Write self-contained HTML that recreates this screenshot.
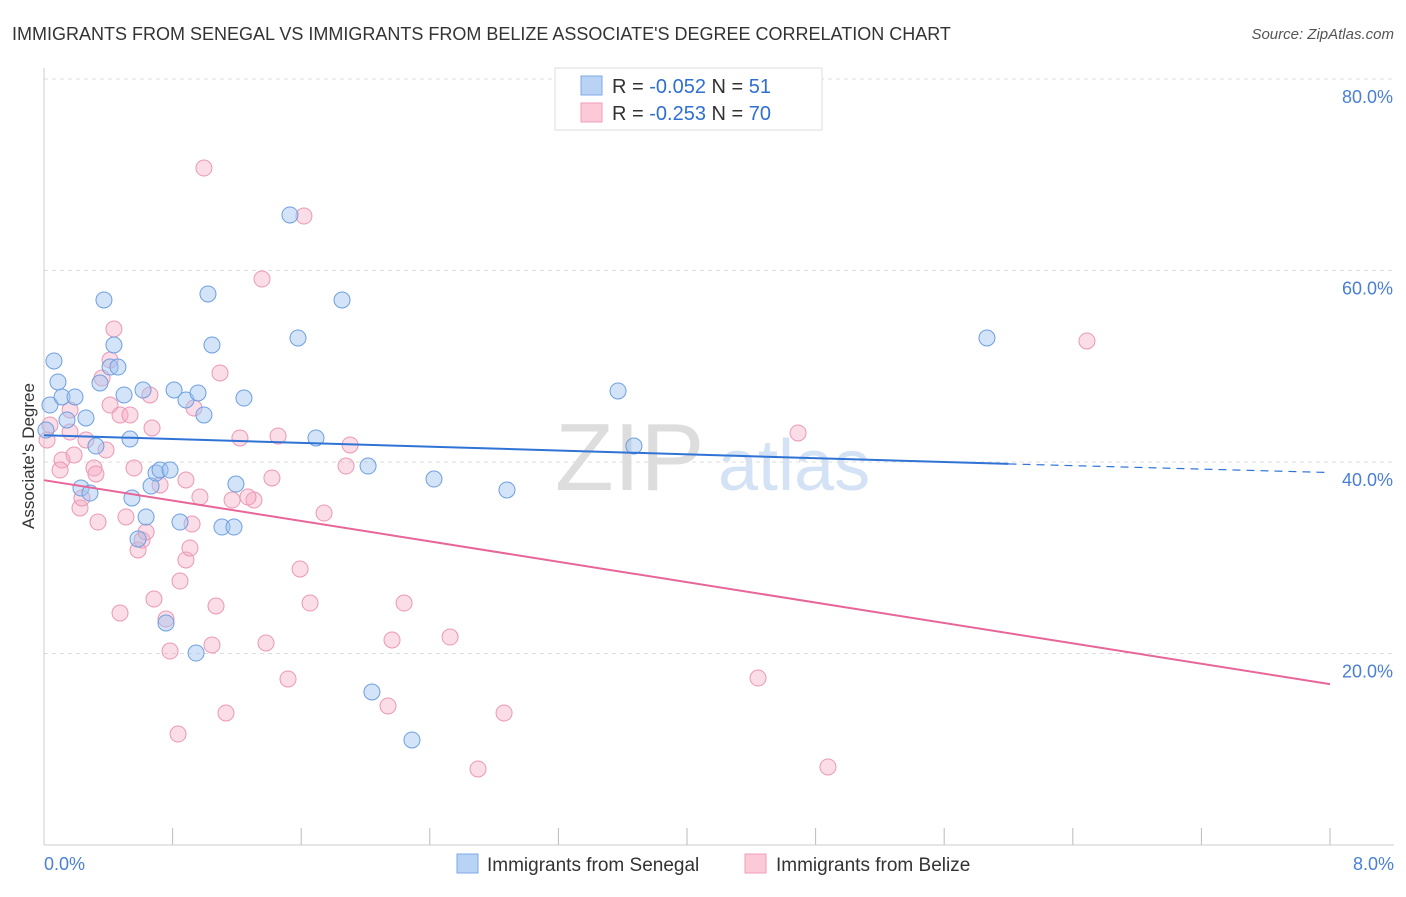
<!DOCTYPE html>
<html><head><meta charset="utf-8"><style>
body{margin:0;background:#fff;font-family:"Liberation Sans",sans-serif;}
svg text{font-family:"Liberation Sans",sans-serif;}
</style></head><body>
<svg id="chart" width="1406" height="892" xmlns="http://www.w3.org/2000/svg">
<text x="12" y="40" font-size="18" fill="#333">IMMIGRANTS FROM SENEGAL VS IMMIGRANTS FROM BELIZE ASSOCIATE'S DEGREE CORRELATION CHART</text>
<text x="1394" y="39" font-size="15" fill="#555" text-anchor="end" font-style="italic">Source: ZipAtlas.com</text>
<text x="555" y="490" font-size="96" fill="#ddd" font-family="Liberation Serif">ZIP</text>
<text x="718" y="490" font-size="72" fill="#d4e2f5">atlas</text>
<g id="grid"></g>
<line x1="44" y1="68" x2="44" y2="845" stroke="#ccc"/>
<line x1="44" y1="845" x2="1394" y2="845" stroke="#ccc"/>
<text transform="translate(34,456) rotate(-90)" font-size="17" fill="#333" text-anchor="middle">Associate's Degree</text>
<text x="44" y="870" font-size="18" fill="#4a7fd4">0.0%</text>
<text x="1394" y="870" font-size="18" fill="#4a7fd4" text-anchor="end">8.0%</text>
<g id="points"></g>
<g id="lines"></g>
<g>
<rect x="555" y="68" width="267" height="62" fill="#fff" stroke="#ddd"/>
<rect x="581" y="76" width="21" height="19" fill="#b9d3f5" stroke="#7eaae6"/>
<rect x="581" y="103" width="21" height="19" fill="#fbc9d8" stroke="#ef9fba"/>
<text x="612" y="93" font-size="20" fill="#333">R = <tspan fill="#2f6fd1">-0.052</tspan>   N = <tspan fill="#2f6fd1"> 51</tspan></text>
<text x="612" y="120" font-size="20" fill="#333">R = <tspan fill="#2f6fd1"> -0.253</tspan>   N = <tspan fill="#2f6fd1">70</tspan></text>
</g>
<g>
<rect x="457" y="854" width="21" height="19" fill="#b9d3f5" stroke="#7eaae6"/>
<text x="487" y="871" font-size="19" fill="#333">Immigrants from Senegal</text>
<rect x="745" y="854" width="21" height="19" fill="#fbc9d8" stroke="#ef9fba"/>
<text x="776" y="871" font-size="19" fill="#333">Immigrants from Belize</text>
</g>
</svg>
<script>
const yTicks=[20,40,60,80];
const xTickCount=10;
const bluePx=[[54,361],[58,382],[50,405],[62,397],[75,397],[67,420],[86,418],[104,300],[114,345],[110,367],[118,367],[100,383],[124,395],[143,390],[96,446],[130,439],[81,488],[90,493],[132,498],[146,517],[151,486],[156,473],[160,470],[170,470],[138,539],[180,522],[166,623],[196,653],[174,390],[186,400],[198,393],[204,415],[208,294],[212,345],[244,398],[236,484],[222,527],[234,527],[290,215],[298,338],[342,300],[316,438],[368,466],[372,692],[412,740],[434,479],[507,490],[618,391],[634,446],[987,338],[46,430]];
const pinkPx=[[50,425],[47,440],[70,410],[86,440],[62,460],[74,455],[94,468],[96,474],[80,508],[82,498],[98,522],[106,450],[102,378],[114,329],[110,405],[120,415],[130,415],[152,428],[134,468],[126,517],[138,550],[142,540],[146,532],[120,613],[154,599],[166,619],[170,651],[180,581],[178,734],[186,560],[190,548],[192,524],[186,480],[200,497],[160,485],[194,408],[212,645],[216,606],[220,373],[226,713],[204,168],[240,438],[232,500],[254,500],[248,497],[262,279],[266,643],[272,478],[278,436],[288,679],[300,569],[304,216],[310,603],[324,513],[346,466],[350,445],[388,706],[392,640],[404,603],[450,637],[478,769],[504,713],[758,678],[798,433],[828,767],[1087,341],[70,432],[60,470],[150,395],[110,360]];
// data values (x in %, y in %) derived from reading the picture
const senegalX=bluePx.map(p=>+((p[0]-44)/160.75).toFixed(3));
const senegalY=bluePx.map(p=>+((845-p[1])/9.575).toFixed(2));
const belizeX=pinkPx.map(p=>+((p[0]-44)/160.75).toFixed(3));
const belizeY=pinkPx.map(p=>+((845-p[1])/9.575).toFixed(2));
const senegalTrend=[42.8,39.8]; // at x=0 and x=6
const senegalTrendEnd=38.9; // at x=8
const belizeTrend=[38.1,16.8]; // at x=0 and x=8
const sx=v=>44+v*160.75, sy=v=>845-v*9.575;
const NS="http://www.w3.org/2000/svg";
function mk(t,a,p){const e=document.createElementNS(NS,t);for(const k in a)e.setAttribute(k,a[k]);p.appendChild(e);return e;}
const grid=document.getElementById('grid');
yTicks.forEach(t=>{
 const l=mk('line',{x1:44,x2:1394,y1:sy(t),y2:sy(t),stroke:'#ddd','stroke-dasharray':'4,4'},grid);
 
 
 const tx=mk('text',{x:1393,y:sy(t)+24,'font-size':18,fill:'#4a7fd4','text-anchor':'end'},grid);
 tx.textContent=t.toFixed(1)+'%';
 
 
});
for(let i=1;i<=xTickCount;i++){
 const l=mk('line',{x1:sx(i*0.8),x2:sx(i*0.8),y1:828,y2:845,stroke:'#bbb'},grid);
 
 
}
const pts=document.getElementById('points');
belizeX.forEach((x,i)=>{const c=mk('circle',{cx:sx(x),cy:sy(belizeY[i]),r:8,fill:'rgba(245,170,195,0.4)',stroke:'#eb98b5','stroke-width':1},pts);
 
 });
senegalX.forEach((x,i)=>{const c=mk('circle',{cx:sx(x),cy:sy(senegalY[i]),r:8,fill:'rgba(160,195,240,0.45)',stroke:'#6d9fe0','stroke-width':1},pts);
 
 });
const ln=document.getElementById('lines');
let a=mk('line',{x1:sx(0),y1:sy(senegalTrend[0]),x2:sx(6),y2:sy(senegalTrend[1]),stroke:'#2f73d6','stroke-width':2},ln);


a=mk('line',{x1:sx(6),y1:sy(senegalTrend[1]),x2:sx(8),y2:sy(senegalTrendEnd),stroke:'#2f73d6','stroke-width':1.2,'stroke-dasharray':'8,6'},ln);


a=mk('line',{x1:sx(0),y1:sy(belizeTrend[0]),x2:sx(8),y2:sy(belizeTrend[1]),stroke:'#e8659a','stroke-width':2},ln);


</script>
</body></html>
